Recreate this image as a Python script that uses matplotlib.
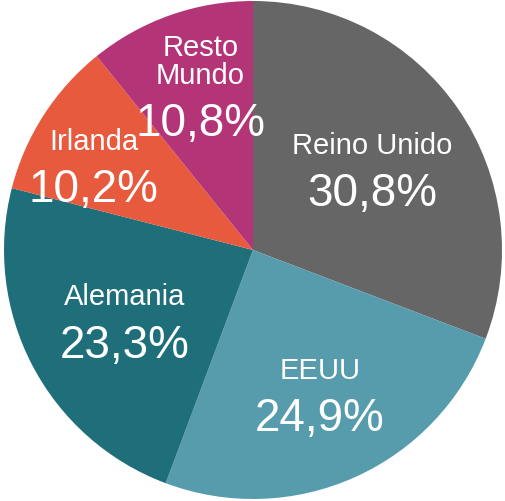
import numpy as np
import matplotlib
matplotlib.use("Agg")
import matplotlib.pyplot as plt

# ---------------------------
# Data
# ---------------------------
countries = ["Reino Unido", "EEUU", "Alemania", "Irlanda", "Resto\nMundo"]
shares = [30.8, 24.9, 23.3, 10.2, 10.8]
colors = ["#666666", "#579cad", "#1f6f7b", "#e85a3e", "#b43577"]

# label anchor: distance (fraction of radius) and angle tweak (deg) per wedge
label_dist = [0.59, 0.62, 0.58, 0.735, 0.66]
label_turn = [1.1, 1.3, -0.5, 3.3, -0.7]

plt.rcParams["font.family"] = ["Liberation Sans", "DejaVu Sans"]

fig = plt.figure(figsize=(5.06, 5.02), dpi=100)
ax = fig.add_axes([0, 0, 1, 1])

wedges, _ = ax.pie(
    shares,
    colors=colors,
    startangle=90,
    counterclock=False,
    radius=1.0,
    wedgeprops={"linewidth": 0},
)

ax.set_xlim(-253 / 249, 253 / 249)
ax.set_ylim(-251 / 249, 251 / 249)
ax.axis("off")

for w, name, val, d, t in zip(wedges, countries, shares, label_dist, label_turn):
    ang = np.deg2rad((w.theta1 + w.theta2) / 2 + t)
    x = d * np.cos(ang)
    y = d * np.sin(ang)
    ax.text(x, y + 0.045, name, ha="center", va="baseline",
            color="white", fontsize=21, linespacing=1.0)
    ax.text(x, y - 0.165, f"{val:.1f}%".replace(".", ","), ha="center",
            va="baseline", color="white", fontsize=33)

fig.savefig("out.png", dpi=100)
